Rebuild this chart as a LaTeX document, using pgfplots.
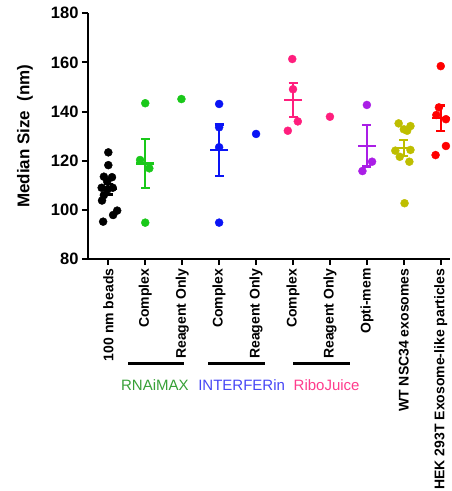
\documentclass[border=0pt]{standalone}
\usepackage{fontspec}
\setmainfont{Liberation Sans}
\usepackage{pgfplots}
\pgfplotsset{compat=1.18}
\definecolor{cblack}{RGB}{0,0,0}
\definecolor{cgreen}{RGB}{25,200,25}
\definecolor{cblue}{RGB}{10,20,245}
\definecolor{cpink}{RGB}{255,30,125}
\definecolor{cpurple}{RGB}{170,30,230}
\definecolor{colive}{RGB}{190,190,0}
\definecolor{cred}{RGB}{255,0,0}
\definecolor{lgreen}{RGB}{55,160,55}
\definecolor{lblue}{RGB}{70,70,245}
\definecolor{lpink}{RGB}{255,60,140}
\pgfplotsset{
  pts/.style={only marks, mark=*, mark size=4pt, color=#1, mark options={draw=#1, fill=#1}},
  mn/.style={only marks, mark=-, mark size=9pt, color=#1, line width=2.3pt,
    /pgfplots/error bars/y dir=both, /pgfplots/error bars/y explicit,
    /pgfplots/error bars/error bar style={line width=2.3pt, color=#1},
    /pgfplots/error bars/error mark=-,
    /pgfplots/error bars/error mark options={rotate=90, mark size=4.5pt, line width=2.3pt, color=#1}},
}
\begin{document}
\begin{tikzpicture}
\begin{axis}[
  scale only axis, width=362pt, height=245.7pt,
  xmin=-0.55, xmax=9.25, ymin=80, ymax=180,
  axis x line*=bottom, axis y line*=left,
  axis line style={line width=2pt},
  ytick={80,100,...,180},
  xtick={0,...,9},
  xticklabels={100 nm beads, Complex, Reagent Only, Complex, Reagent Only, Complex, Reagent Only, Opti-mem, WT NSC34 exosomes, HEK 293T Exosome-like particles},
  xticklabel style={rotate=90, anchor=east, font=\bfseries\fontsize{14}{14}\selectfont},
  yticklabel style={font=\bfseries\fontsize{16.5}{16.5}\selectfont},
  /pgf/number format/assume math mode=true,
  tick align=outside, major tick length=6pt, tick style={line width=2pt, black},
  ylabel={Median Size\ \ (nm)},
  every axis y label/.style={at={(axis description cs:-0.174,0.5)}, rotate=90, anchor=center, font=\bfseries\fontsize{17}{17}\selectfont},
  clip=false,
]
\coordinate (O) at (rel axis cs:0,0);
% 100 nm beads
\addplot[mn=cblack] coordinates {(0,108.4) +- (0,2.2)};
\addplot[pts=cblack] coordinates {
(0.00,123.4) (0.00,118.2) (-0.12,113.5) (0.10,113.3) (-0.03,111.5) (-0.18,109.0)
(0.12,109.0) (-0.02,108.3) (-0.12,106.0) (-0.17,103.8) (0.24,99.7) (0.13,97.9) (-0.14,95.2)};
% RNAiMAX
\addplot[mn=cgreen] coordinates {(1,118.9) +- (0,9.9)};
\addplot[pts=cgreen] coordinates {(1.00,143.4) (0.86,120.3) (1.11,116.9) (1.00,94.8)};
\addplot[pts=cgreen] coordinates {(1.98,145.1)};
% INTERFERin
\addplot[mn=cblue] coordinates {(3,124.3) +- (0,10.5)};
\addplot[pts=cblue] coordinates {(3,143.1) (3,133.6) (3,125.5) (3,94.8)};
\addplot[pts=cblue] coordinates {(4,130.9)};
% RiboJuice
\addplot[mn=cpink] coordinates {(5,144.7) +- (0,6.8)};
\addplot[pts=cpink] coordinates {(4.98,161.4) (5.00,149.1) (5.13,136.0) (4.86,132.2)};
\addplot[pts=cpink] coordinates {(6,137.9)};
% Opti-mem
\addplot[mn=cpurple] coordinates {(7,126.0) +- (0,8.4)};
\addplot[pts=cpurple] coordinates {(7.00,142.7) (7.14,119.6) (6.88,115.8)};
% WT NSC34
\addplot[mn=colive] coordinates {(8,125.2) +- (0,3.3)};
\addplot[pts=colive] coordinates {
(7.86,135.2) (8.18,134.1) (8.00,132.8) (8.09,132.2) (8.18,124.4) (7.77,124.1)
(7.89,121.6) (8.15,119.6) (8.02,102.7)};
% HEK 293T
\addplot[mn=cred] coordinates {(9,137.3) +- (0,5.2)};
\addplot[pts=cred] coordinates {(9.00,158.5) (8.95,141.7) (8.88,138.6) (9.14,136.9) (9.14,126.0) (8.86,122.3)};
% group annotations
\draw[line width=2.5pt] (axis cs:0.54,37.4) -- (axis cs:2.05,37.4);
\draw[line width=2.5pt] (axis cs:2.71,37.4) -- (axis cs:4.24,37.4);
\draw[line width=2.5pt] (axis cs:5.01,37.4) -- (axis cs:6.54,37.4);
\node[text=lgreen, font=\fontsize{15}{15}\selectfont] at (axis cs:1.26,28.7) {RNAiMAX};
\node[text=lblue, font=\fontsize{15}{15}\selectfont] at (axis cs:3.61,28.7) {INTERFERin};
\node[text=lpink, font=\fontsize{15}{15}\selectfont] at (axis cs:5.91,28.7) {RiboJuice};
\end{axis}
\pgfresetboundingbox
\path ([shift={(-88pt,-232pt)}]O) rectangle ([shift={(363pt,259pt)}]O);
\end{tikzpicture}
\end{document}
